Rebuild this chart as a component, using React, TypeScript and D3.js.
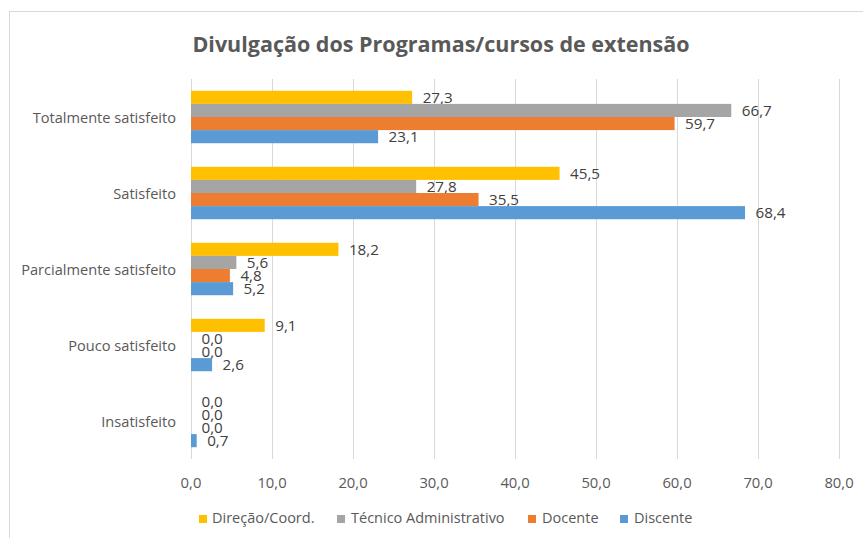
import React from "react";
import * as d3 from "d3";

const categories = [
  "Totalmente satisfeito",
  "Satisfeito",
  "Parcialmente satisfeito",
  "Pouco satisfeito",
  "Insatisfeito",
];
const seriesNames = ["Direção/Coord.", "Técnico Administrativo", "Docente", "Discente"];
const direcao = [27.3, 45.5, 18.2, 9.1, 0.0];
const tecnico = [66.7, 27.8, 5.6, 0.0, 0.0];
const docente = [59.7, 35.5, 4.8, 0.0, 0.0];
const discente = [23.1, 68.4, 5.2, 2.6, 0.7];
const xTicks = [0, 10, 20, 30, 40, 50, 60, 70, 80];
const colors = ["#FFC000", "#A5A5A5", "#ED7D31", "#5B9BD5"];

const W = 863;
const H = 538;
const FONT = "'Open Sans', sans-serif";
const fmt = (v: number) => v.toFixed(1).replace(".", ",");

export default function App() {
  const seriesValues = [direcao, tecnico, docente, discente];
  const x = d3.scaleLinear().domain([0, 80]).range([191, 839]);
  const y = d3
    .scaleBand<string>()
    .domain(categories)
    .range([79, 459])
    .paddingInner(0.31)
    .paddingOuter(0.155);
  const inner = d3
    .scaleBand<string>()
    .domain(seriesNames)
    .range([0, y.bandwidth()])
    .padding(0);

  const legendItems = [
    { name: seriesNames[0], sx: 199, tx: 212 },
    { name: seriesNames[1], sx: 337, tx: 351 },
    { name: seriesNames[2], sx: 528, tx: 542 },
    { name: seriesNames[3], sx: 620, tx: 634 },
  ];

  return (
    <svg
      width={W}
      height={H}
      style={{ position: "absolute", left: 0, top: 0, background: "#fff" }}
      fontFamily={FONT}
    >
      <rect x={0} y={0} width={W} height={H} fill="#fff" />
      <rect x={9.5} y={11.5} width={900} height={600} fill="#fff" stroke="#D9D9D9" />
      <text x={441} y={51.5} textAnchor="middle" fontSize={21.5} fontWeight="bold" fill="#595959">
        Divulgação dos Programas/cursos de extensão
      </text>
      {xTicks.map((t) => (
        <line
          key={"g" + t}
          x1={Math.round(x(t)) + 0.5}
          x2={Math.round(x(t)) + 0.5}
          y1={79}
          y2={459}
          stroke="#D9D9D9"
          strokeWidth={1}
        />
      ))}
      {xTicks.map((t) => (
        <text key={"t" + t} x={x(t)} y={487.5} textAnchor="middle" fontSize={14.8} fill="#595959">
          {fmt(t)}
        </text>
      ))}
      {categories.map((c) => (
        <text
          key={"c" + c}
          x={176}
          y={(y(c) as number) + y.bandwidth() / 2 + 5.6}
          textAnchor="end"
          fontSize={14.6}
          fill="#595959"
        >
          {c}
        </text>
      ))}
      {seriesNames.map((s, si) =>
        categories.map((c, ci) => {
          const v = seriesValues[si][ci];
          const by = (y(c) as number) + (inner(s) as number);
          const bh = inner.bandwidth();
          return (
            <g key={s + c}>
              {v > 0 && (
                <rect x={x(0)} y={by} width={x(v) - x(0)} height={bh} fill={colors[si]} />
              )}
              <text x={x(v) + 10.5} y={by + bh / 2 + 5.6} fontSize={15.2} fill="#404040">
                {fmt(v)}
              </text>
            </g>
          );
        })
      )}
      {legendItems.map((l, i) => (
        <g key={"l" + l.name}>
          <rect x={l.sx} y={515} width={8} height={8} fill={colors[i]} />
          <text x={l.tx} y={523.3} fontSize={14.5} fill="#595959">
            {l.name}
          </text>
        </g>
      ))}
    </svg>
  );
}
